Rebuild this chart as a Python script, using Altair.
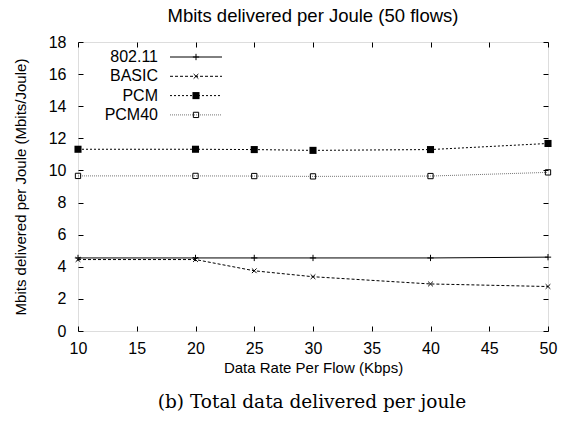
import altair as alt
import pandas as pd

rates = [10, 20, 25, 30, 40, 50]
series_names = ["802.11", "BASIC", "PCM", "PCM40"]
v_80211 = [4.55, 4.55, 4.55, 4.55, 4.55, 4.6]
v_basic = [4.45, 4.45, 3.75, 3.38, 2.93, 2.77]
v_pcm = [11.32, 11.32, 11.3, 11.25, 11.3, 11.68]
v_pcm40 = [9.66, 9.66, 9.65, 9.63, 9.65, 9.88]

rows = []
for name, vals in zip(series_names, [v_80211, v_basic, v_pcm, v_pcm40]):
    for r, v in zip(rates, vals):
        rows.append({"rate": r, "value": v, "series": name})
df = pd.DataFrame(rows)

FONT = "Liberation Sans"
W, H = 470, 289

styles = {
    "802.11": dict(dash=[1, 0], color="#000000", shape="M-1,0L1,0M0,-1L0,1", filled=False, size=40),
    "BASIC": dict(dash=[3, 2], color="#000000", shape="M-1,-1L1,1M-1,1L1,-1", filled=False, size=22),
    "PCM": dict(dash=[2, 2], color="#000000", shape="square", filled=True, size=50),
    "PCM40": dict(dash=[1, 1], color="#777777", shape="square", filled=False, size=28),
}

xs = alt.Scale(domain=[10, 50], nice=False)
ys = alt.Scale(domain=[0, 18], nice=False)

def ax(orient, labels, title=None, pad=0, tpad=4):
    return alt.Axis(orient=orient, offset=-5, tickSize=5, domain=False, grid=False,
                    labels=labels, tickColor="black", tickWidth=1,
                    labelFont=FONT, labelFontSize=16, labelColor="black", labelFlush=False,
                    labelOverlap=False,
                    titleFont=FONT, titleFontSize=15, titleFontWeight="normal", titleColor="black",
                    labelPadding=pad, titlePadding=tpad, title=title)

layers = []
for i, name in enumerate(series_names):
    st = styles[name]
    sub = df[df.series == name]
    base = alt.Chart(sub)
    if i == 0:
        enc_x = alt.X("rate:Q", scale=xs, axis=ax("bottom", True, "Data Rate Per Flow (Kbps)", 9, 4))
        enc_y = alt.Y("value:Q", scale=ys, axis=ax("left", True, "Mbits delivered per Joule (Mbits/Joule)", 12, 20))
    else:
        enc_x = alt.X("rate:Q", scale=xs, axis=None)
        enc_y = alt.Y("value:Q", scale=ys, axis=None)
    line = base.mark_line(color=st["color"], strokeDash=st["dash"], strokeWidth=1).encode(x=enc_x, y=enc_y)
    pts = base.mark_point(shape=st["shape"], filled=st["filled"], size=st["size"],
                          color="#000000", strokeWidth=1, opacity=1).encode(
        x=alt.X("rate:Q", scale=xs, axis=None), y=alt.Y("value:Q", scale=ys, axis=None))
    layers += [line, pts]

# mirror ticks on top and right
mirror = alt.Chart(df).mark_point(opacity=0).encode(
    x=alt.X("rate:Q", scale=xs, axis=ax("top", False)),
    y=alt.Y("value:Q", scale=ys, axis=ax("right", False)),
)

# legend (gnuplot style, inside top-left)
leg = pd.DataFrame({"series": series_names, "row": [0, 1, 2, 3]})
leg_layers = []
for i, name in enumerate(series_names):
    st = styles[name]
    ld = leg[leg.series == name]
    yexpr = f"15 + {i} * 19.3"
    b = alt.Chart(ld).transform_calculate(py=yexpr)
    leg_layers.append(b.mark_text(align="right", baseline="middle", font=FONT, fontSize=16, color="black").encode(
        text="series:N", x=alt.value(80), y=alt.Y("py:Q", scale=None, axis=None)))
    leg_layers.append(b.mark_rule(color=st["color"], strokeDash=st["dash"], strokeWidth=1).encode(
        x=alt.value(92), x2=alt.value(144), y=alt.Y("py:Q", scale=None, axis=None)))
    leg_layers.append(b.mark_point(shape=st["shape"], filled=st["filled"], size=st["size"],
                                   color="#000000", strokeWidth=1, opacity=1).encode(
        x=alt.value(118), y=alt.Y("py:Q", scale=None, axis=None)))

caption = alt.Chart(pd.DataFrame({"t": ["(b) Total data delivered per joule"]})).mark_text(
    font="DejaVu Serif", fontSize=18.5, color="black", align="center", baseline="middle").encode(
    text="t:N", x=alt.value(234), y=alt.value(H + 71))

chart = alt.layer(*layers, mirror, *leg_layers, caption).resolve_axis(
    x="independent", y="independent"
).properties(
    width=W, height=H,
    title=alt.Title("Mbits delivered per Joule (50 flows)", font=FONT, fontSize=18.5,
                    fontWeight="normal", color="black", offset=9, anchor="middle"),
    autosize=alt.AutoSizeParams(type="none"),
    padding={"left": 70, "top": 34, "right": 10, "bottom": 90},
).configure_view(stroke="black", strokeWidth=1).configure(background="white")

chart.save("out.html", embed_options={"renderer": "svg", "actions": False})
